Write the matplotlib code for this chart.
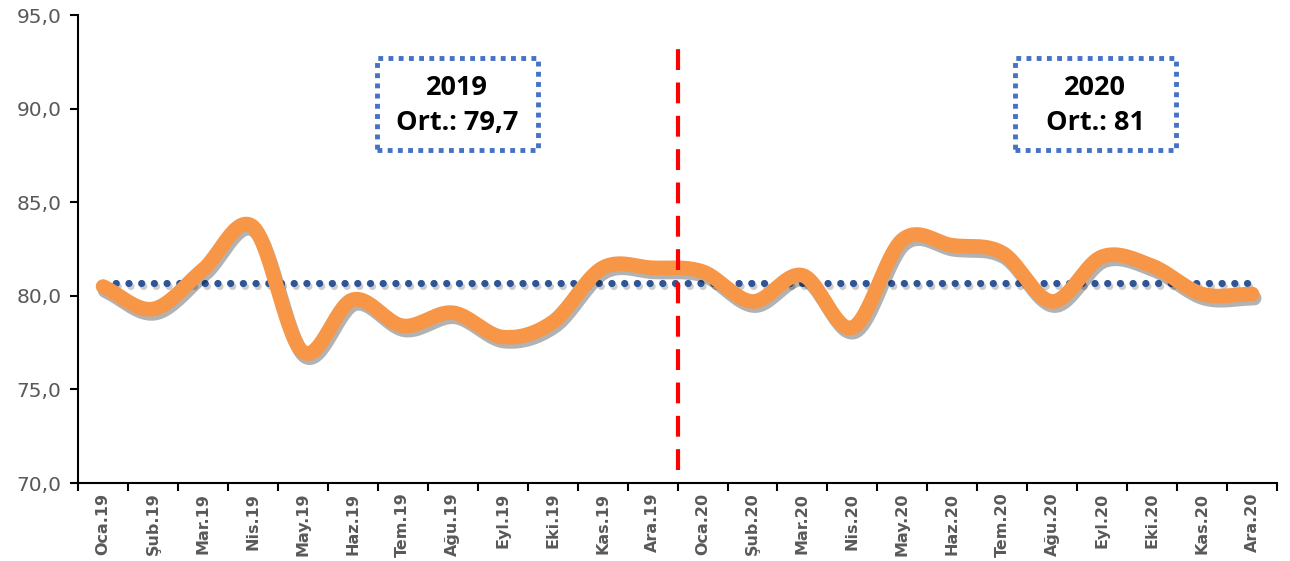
import numpy as np
import matplotlib
matplotlib.use("Agg")
import matplotlib.pyplot as plt
import matplotlib.patheffects as pe
from matplotlib.patches import Rectangle

# ── DATA ─────────────────────────────────────────────
months = ["Oca.19", "Şub.19", "Mar.19", "Nis.19", "May.19", "Haz.19",
          "Tem.19", "Ağu.19", "Eyl.19", "Eki.19", "Kas.19", "Ara.19",
          "Oca.20", "Şub.20", "Mar.20", "Nis.20", "May.20", "Haz.20",
          "Tem.20", "Ağu.20", "Eyl.20", "Eki.20", "Kas.20", "Ara.20"]
values = [80.5, 79.3, 81.4, 83.7, 77.0, 79.8, 78.4, 79.1, 77.8, 78.6, 81.5, 81.5,
          81.3, 79.7, 81.1, 78.3, 83.0, 82.7, 82.3, 79.7, 82.1, 81.6, 80.1, 80.1]
overall_avg = 80.7
box_texts = ["2019\nOrt.: 79,7", "2020\nOrt.: 81"]
yticks = [70, 75, 80, 85, 90, 95]


def catmull_rom(x, y, n=20):
    # smoothed line like the spreadsheet "smooth line" option
    x = np.asarray(x, float)
    y = np.asarray(y, float)
    px = np.concatenate([[2 * x[0] - x[1]], x, [2 * x[-1] - x[-2]]])
    py = np.concatenate([[2 * y[0] - y[1]], y, [2 * y[-1] - y[-2]]])
    xs, ys = [], []
    t = np.linspace(0, 1, n, endpoint=False)
    for i in range(1, len(px) - 2):
        for arr, out in ((px, xs), (py, ys)):
            p0, p1, p2, p3 = arr[i - 1], arr[i], arr[i + 1], arr[i + 2]
            out.extend(0.5 * (2 * p1 + (-p0 + p2) * t
                              + (2 * p0 - 5 * p1 + 4 * p2 - p3) * t ** 2
                              + (-p0 + 3 * p1 - 3 * p2 + p3) * t ** 3))
    xs.append(x[-1])
    ys.append(y[-1])
    return np.array(xs), np.array(ys)


fig = plt.figure(figsize=(12.9, 5.61), dpi=100)
ax = fig.add_axes([0.0605, 0.139, 0.9295, 0.834])

x = np.arange(len(months))

# average dotted line
ax.plot([x[0], x[-1]], [overall_avg, overall_avg], color="#2F5597",
        lw=5.2, linestyle=(0, (0.01, 1.75)), dash_capstyle="round", zorder=3,
        path_effects=[pe.SimpleLineShadow(offset=(1.5, -2.5), alpha=0.2),
                      pe.Normal()])

# smoothed series
sx, sy = catmull_rom(x, values)
ax.plot(sx, sy, color="#F79646", lw=10.5, solid_capstyle="round",
        solid_joinstyle="round", zorder=4,
        path_effects=[pe.SimpleLineShadow(offset=(1.5, -3), alpha=0.3),
                      pe.Normal()])

# year separator
ax.plot([11.5, 11.5], [70.7, 93.2], color="#FF0000", lw=3,
        linestyle=(0, (5, 3)), zorder=5)

# text boxes
for cx, txt in zip([7.09, 19.86], box_texts):
    ax.add_patch(Rectangle((cx - 1.61, 87.8), 3.22, 4.9, fill=False,
                           edgecolor="#4472C4", lw=3.5,
                           linestyle=(0, (1, 1.1)), zorder=6))
    ax.text(cx, 90.15, txt, ha="center", va="center", fontsize=19.5,
            fontweight="bold", family="Open Sans", linespacing=1.45,
            zorder=7)

ax.set_xlim(-0.5, len(months) - 0.5)
ax.set_ylim(70, 95)
ax.set_yticks(yticks)
ax.set_yticklabels([f"{v:.1f}".replace(".", ",") for v in yticks],
                   fontsize=14.5, color="#595959")

ax.set_xticks(x)
ax.set_xticklabels(months, rotation=90, fontsize=11.5, fontweight="bold",
                   color="#595959")
ax.set_xticks(np.arange(len(months) + 1) - 0.5, minor=True)
ax.tick_params(axis="x", which="major", length=0, pad=7)
ax.tick_params(axis="x", which="minor", length=6, width=1.5, direction="out")
ax.tick_params(axis="y", length=6, width=1.5, direction="out", pad=6)

for s in ["top", "right"]:
    ax.spines[s].set_visible(False)
for s in ["left", "bottom"]:
    ax.spines[s].set_linewidth(1.5)
    ax.spines[s].set_color("#000000")

fig.savefig("out.png", dpi=100)
